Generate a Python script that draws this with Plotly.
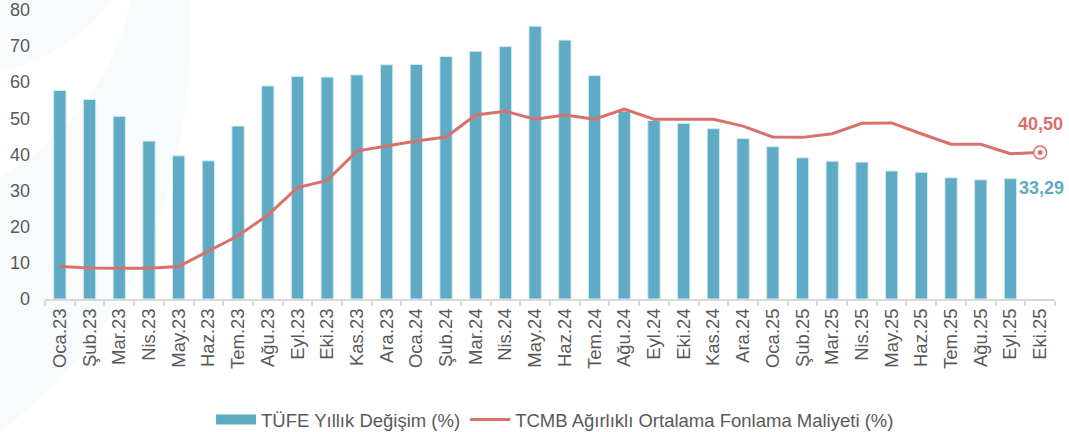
import plotly.graph_objects as go

categories = ["Oca.23", "Şub.23", "Mar.23", "Nis.23", "May.23", "Haz.23", "Tem.23", "Ağu.23",
              "Eyl.23", "Eki.23", "Kas.23", "Ara.23", "Oca.24", "Şub.24", "Mar.24", "Nis.24",
              "May.24", "Haz.24", "Tem.24", "Ağu.24", "Eyl.24", "Eki.24", "Kas.24", "Ara.24",
              "Oca.25", "Şub.25", "Mar.25", "Nis.25", "May.25", "Haz.25", "Tem.25", "Ağu.25",
              "Eyl.25", "Eki.25"]

tufe = [57.68, 55.18, 50.51, 43.68, 39.59, 38.21, 47.83, 58.94, 61.53, 61.36, 61.98, 64.77,
        64.86, 67.07, 68.50, 69.80, 75.45, 71.60, 61.78, 51.97, 49.38, 48.58, 47.09, 44.38,
        42.12, 39.05, 38.10, 37.86, 35.41, 35.05, 33.52, 32.95, 33.29, None]

tcmb = [9.0, 8.6, 8.5, 8.5, 9.0, 13.2, 17.5, 23.2, 30.8, 32.8, 40.9, 42.3,
        43.7, 44.8, 50.9, 51.9, 49.7, 50.9, 49.7, 52.5, 49.7, 49.7, 49.7, 47.8,
        44.8, 44.7, 45.7, 48.6, 48.7, 45.7, 42.8, 42.8, 40.2, 40.5]

y_ticks = [0, 10, 20, 30, 40, 50, 60, 70, 80]

name_bar = "TÜFE Yıllık Değişim (%)"
name_line = "TCMB Ağırlıklı Ortalama Fonlama Maliyeti (%)"

BAR = "#5fabc4"
LINE = "#d9706b"
GRAY = "#595959"
FONT = "Liberation Sans"

W, H = 1069, 432
ML, MR, MT, MB = 45, 14, 9, 133
PW, PH = W - ML - MR, H - MT - MB


def px(xp, yp):
    # screen pixel -> paper coords
    return (xp - ML) / PW, (H - MB - yp) / PH


def path(points):
    out = []
    for cmd, pts in points:
        coords = " ".join("%.4f,%.4f" % px(*p) for p in pts)
        out.append(cmd + coords)
    return " ".join(out) + " Z"


fig = go.Figure()

fig.add_trace(go.Bar(
    x=categories, y=tufe, name=name_bar, marker=dict(color=BAR, line=dict(color="#d4ebf2", width=1)),
    showlegend=False,
))
fig.add_trace(go.Scatter(
    x=categories, y=tcmb, name=name_line, mode="lines",
    line=dict(color=LINE, width=3), showlegend=False,
))
# end marker
last_x = [categories[-1]]
last_y = [tcmb[-1]]
fig.add_trace(go.Scatter(x=last_x, y=last_y, mode="markers", showlegend=False,
                         marker=dict(symbol="circle", size=13, color="white", line=dict(color=LINE, width=1.5))))
fig.add_trace(go.Scatter(x=last_x, y=last_y, mode="markers", showlegend=False,
                         marker=dict(symbol="circle", size=5, color=LINE)))

# legend entries
fig.add_trace(go.Scatter(x=[None], y=[None], mode="lines", name=name_bar,
                         line=dict(color=BAR, width=10)))
fig.add_trace(go.Scatter(x=[None], y=[None], mode="lines", name=name_line,
                         line=dict(color=LINE, width=3)))

fig.add_annotation(x=categories[-1], y=tcmb[-1], text="<b>%s</b>" % ("%.2f" % tcmb[-1]).replace(".", ","),
                   showarrow=False, yshift=29, xshift=0, font=dict(color=LINE, size=18, family=FONT))
fig.add_annotation(x=categories[-2], y=tufe[-2], text="<b>%s</b>" % ("%.2f" % tufe[-2]).replace(".", ","),
                   showarrow=False, xanchor="left", xshift=7, yshift=-9,
                   font=dict(color=BAR, size=18, family=FONT))

bg = "rgba(95,171,196,0.05)"
shapes = [
    dict(type="path", xref="paper", yref="paper", layer="below", fillcolor=bg, line=dict(width=0),
         path=path([("M", [(0, 0)]), ("L", [(110, 0)]), ("Q", [(80, 50), (0, 72)])])),
    dict(type="path", xref="paper", yref="paper", layer="below", fillcolor=bg, line=dict(width=0),
         path=path([("M", [(130, 0)]), ("L", [(190, 0)]), ("Q", [(200, 280), (0, 432)]),
                    ("L", [(0, 178)]), ("Q", [(110, 110), (130, 0)])])),
]

fig.update_layout(
    width=W, height=H, autosize=False,
    margin=dict(l=ML, r=MR, t=MT, b=MB, pad=0, autoexpand=False),
    paper_bgcolor="white", plot_bgcolor="rgba(0,0,0,0)",
    font=dict(family=FONT, color=GRAY, size=18),
    bargap=0.585,
    shapes=shapes,
    legend=dict(orientation="h", x=0.505, xanchor="center", y=-0.417, yanchor="middle",
                font=dict(size=18.5, color=GRAY), itemwidth=40, bgcolor="rgba(0,0,0,0)"),
    xaxis=dict(type="category", categoryorder="array", categoryarray=categories,
               range=[-0.5, len(categories) - 0.5], autorange=False,
               tickangle=-90, tickfont=dict(size=18.5, color=GRAY), automargin=False,
               showline=True, linecolor="#d9d9d9", linewidth=2,
               ticks="outside", tickson="boundaries", ticklen=5, tickcolor="#d9d9d9", tickwidth=2,
               showgrid=False, zeroline=False),
    yaxis=dict(range=[0, 80.2], autorange=False, tickvals=y_ticks, showgrid=False, zeroline=False,
               showline=False, automargin=False,
               tickfont=dict(size=18, color=GRAY), ticks="", ticklabelstandoff=14),
)

fig.write_html("out.html",
               config={"displayModeBar": False},
               post_script="document.body.style.margin='0';document.body.style.padding='0';"
                           "document.body.style.overflow='hidden';")
